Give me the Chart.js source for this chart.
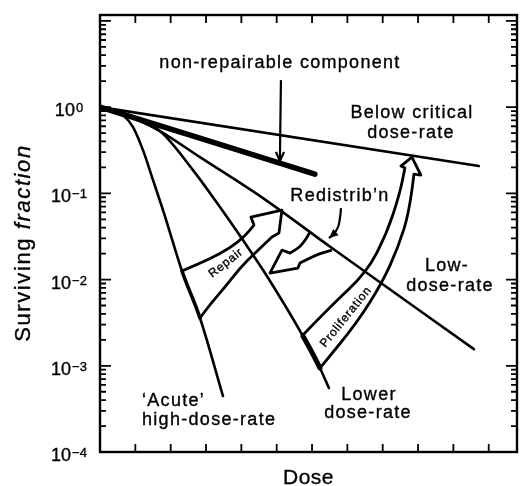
<!DOCTYPE html>
<html>
<head>
<meta charset="utf-8">
<title>Dose-rate effect</title>
<script src="https://cdn.jsdelivr.net/npm/chart.js@4.4.1/dist/chart.umd.min.js"></script>
<style>
  html, body { margin: 0; padding: 0; background: #fff; }
  canvas { display: block; }
</style>
</head>
<body>
<canvas id="chart" width="526" height="486"></canvas>
<script>
// survival curves, dose (no units) against surviving fraction
const belowCritDose = [0, 10.72];
const belowCritSurv = [1, 0.207];

const nonRepairDose = [0, 6.08];
const nonRepairSurv = [1, 0.167];

const lowRateDose = [0, 0.566, 1.132, 1.697, 2.829, 4.611, 6.563, 10.58];
const lowRateSurv = [1, 0.852, 0.689, 0.527, 0.263, 0.0881, 0.0232, 0.00156];

const lowerRateDose = [0, 0.566, 1.132, 1.697, 2.631, 3.253, 4.102, 4.668, 5.743, 6.223, 6.478];
const lowerRateSurv = [1, 0.852, 0.689, 0.527, 0.186, 0.0836, 0.0265, 0.0119, 0.00221, 0.000942, 0.000552];

const acuteDose = [0, 0.339, 0.651, 0.934, 1.216, 1.499, 1.81, 2.32, 2.829, 3.48];
const acuteSurv = [1, 0.948, 0.807, 0.586, 0.317, 0.143, 0.059, 0.01256, 0.00358, 0.000446];

const yDecades = [0, -1, -2, -3, -4];
const xTicks = [1, 2, 3, 4, 5, 6, 7, 8, 9, 10, 11];

// arrow outlines, [dose, log10 surviving fraction]
const repairSideA = [[2.32, -1.901], [3.055, -1.774], [3.678, -1.635], [4.102, -1.496], [4.356, -1.368]];
const repairHead = [[4.27, -1.275], [5.149, -1.194], [5.064, -1.461]];
const repairSideB = [[4.866, -1.507], [4.385, -1.693], [3.96, -1.867], [3.536, -2.087], [3.168, -2.261], [2.829, -2.446]];

const redistSideA = [[5.941, -1.449], [5.743, -1.6], [5.375, -1.693]];
const redistHead = [[5.149, -1.658], [4.809, -1.925], [5.601, -1.867]];
const redistSideB = [[5.658, -1.809], [6.082, -1.716], [6.563, -1.658]];

const prolifSideA = [[5.743, -2.643], [6.506, -2.319], [7.553, -1.913], [8.119, -1.461], [8.487, -0.997], [8.628, -0.707]];
const prolifHead = [[8.515, -0.684], [8.826, -0.58], [9.081, -0.788]];
const prolifSideB = [[8.883, -0.777], [8.769, -1.194], [8.43, -1.635], [7.977, -2.041], [7.27, -2.504], [6.223, -3.026]];

const nonRepairPointer = [[5.12, 0.313], [5.09, -0.626]];
const redistPointer = [[6.82, -1.171], [6.79, -1.333], [6.68, -1.449], [6.48, -1.519]];

const FONT = '"Liberation Sans", Arial, Helvetica, sans-serif';
const INK = '#000';
const LINE = 2.6;

const toPoints = (xs, ys) => xs.map((v, i) => ({ x: v, y: ys[i] }));

function curve(data, width, thickIndex, thickWidth) {
  return {
    data,
    borderColor: INK,
    borderWidth: width,
    borderCapStyle: 'round',
    borderJoinStyle: 'round',
    pointRadius: 0,
    cubicInterpolationMode: 'monotone',
    segment: thickIndex === undefined ? {} : {
      borderWidth: c => (c.p0DataIndex === thickIndex ? thickWidth : width)
    }
  };
}

function smooth(ctx, pts, first) {
  if (first) ctx.moveTo(pts[0].x, pts[0].y); else ctx.lineTo(pts[0].x, pts[0].y);
  for (let i = 1; i < pts.length - 1; i++) {
    const mx = (pts[i].x + pts[i + 1].x) / 2;
    const my = (pts[i].y + pts[i + 1].y) / 2;
    ctx.quadraticCurveTo(pts[i].x, pts[i].y, mx, my);
  }
  const last = pts[pts.length - 1];
  ctx.lineTo(last.x, last.y);
}

function text(ctx, str, px, py, size, align, opts = {}) {
  ctx.save();
  ctx.translate(px, py);
  if (opts.angle) ctx.rotate(opts.angle);
  ctx.font = (opts.italic ? 'italic ' : '') + size + 'px ' + FONT;
  ctx.letterSpacing = (opts.spacing === undefined ? 1.3 : opts.spacing) + 'px';
  ctx.textAlign = align;
  ctx.textBaseline = opts.baseline || 'alphabetic';
  ctx.fillStyle = INK;
  ctx.strokeStyle = INK;
  ctx.lineWidth = 0.35;
  ctx.fillText(str, 0, 0);
  ctx.strokeText(str, 0, 0);
  ctx.restore();
}

function arrowHead(ctx, from, tip, filled) {
  const ang = Math.atan2(tip.y - from.y, tip.x - from.x);
  const len = 10, spread = 0.42;
  const l = { x: tip.x - len * Math.cos(ang - spread), y: tip.y - len * Math.sin(ang - spread) };
  const r = { x: tip.x - len * Math.cos(ang + spread), y: tip.y - len * Math.sin(ang + spread) };
  ctx.beginPath();
  ctx.moveTo(l.x, l.y);
  ctx.lineTo(tip.x, tip.y);
  ctx.lineTo(r.x, r.y);
  if (filled) {
    ctx.closePath();
    ctx.fill();
  } else {
    ctx.stroke();
  }
}

const diagram = {
  id: 'diagram',
  afterDatasetsDraw(chart) {
    const { ctx, chartArea: a, scales: { x, y } } = chart;
    const P = ([d, l]) => ({ x: x.getPixelForValue(d), y: y.getPixelForValue(Math.pow(10, l)) });
    ctx.save();
    ctx.strokeStyle = INK;
    ctx.fillStyle = INK;
    ctx.lineCap = 'butt';

    // frame
    ctx.lineWidth = 2.4;
    ctx.strokeRect(a.left, a.top, a.right - a.left, a.bottom - a.top);

    // inward ticks on all four sides
    ctx.lineWidth = 1.8;
    ctx.beginPath();
    for (let e = Math.floor(Math.log10(y.min)); e <= Math.ceil(Math.log10(y.max)); e++) {
      for (let m = 1; m <= 9; m++) {
        const v = m * Math.pow(10, e);
        if (v < y.min || v > y.max) continue;
        const py = y.getPixelForValue(v);
        const len = m === 1 ? 11 : 6;
        ctx.moveTo(a.left, py); ctx.lineTo(a.left + len, py);
        ctx.moveTo(a.right, py); ctx.lineTo(a.right - len, py);
      }
    }
    xTicks.forEach(t => {
      const px = x.getPixelForValue(t);
      ctx.moveTo(px, a.top); ctx.lineTo(px, a.top + 8);
      ctx.moveTo(px, a.bottom); ctx.lineTo(px, a.bottom - 8);
    });
    ctx.stroke();

    // decade labels
    yDecades.forEach(e => {
      const py = y.getPixelForValue(Math.pow(10, e));
      const sup = e === 0 ? '0' : '\u2212' + Math.abs(e);
      ctx.letterSpacing = '0px';
      ctx.font = '18px ' + FONT;
      const wb = ctx.measureText('10').width;
      ctx.font = '13px ' + FONT;
      const ws = ctx.measureText(sup).width;
      const left = 69 - (wb + ws + 1) / 2;
      ctx.textAlign = 'left';
      ctx.textBaseline = 'alphabetic';
      ctx.lineWidth = 0.35;
      ctx.font = '18px ' + FONT;
      ctx.fillText('10', left, py + 9);
      ctx.strokeText('10', left, py + 9);
      ctx.font = '13px ' + FONT;
      ctx.fillText(sup, left + wb + 1, py + 5);
      ctx.strokeText(sup, left + wb + 1, py + 5);
    });

    // hollow arrows
    ctx.lineWidth = 2.8;
    ctx.lineJoin = 'round';
    [[repairSideA, repairHead, repairSideB],
     [redistSideA, redistHead, redistSideB],
     [prolifSideA, prolifHead, prolifSideB]].forEach(([sa, head, sb]) => {
      ctx.beginPath();
      smooth(ctx, sa.map(P), true);
      head.map(P).forEach(p => ctx.lineTo(p.x, p.y));
      smooth(ctx, sb.map(P), false);
      ctx.stroke();
    });

    // thin pointers
    ctx.lineWidth = 2.2;
    const np = nonRepairPointer.map(P);
    ctx.beginPath();
    ctx.moveTo(np[0].x, np[0].y);
    ctx.lineTo(np[1].x, np[1].y);
    ctx.stroke();
    arrowHead(ctx, np[0], np[1], false);

    const rp = redistPointer.map(P);
    ctx.beginPath();
    smooth(ctx, rp, true);
    ctx.stroke();
    arrowHead(ctx, rp[rp.length - 2], rp[rp.length - 1], true);

    // labels
    text(ctx, 'non-repairable component', 280, 68, 18, 'center');
    text(ctx, 'Below critical', 412, 118, 18, 'center');
    text(ctx, 'dose-rate', 411, 138, 18, 'center');
    text(ctx, 'Redistrib\u2019n', 340, 201, 18, 'center');
    text(ctx, 'Low-', 447, 271, 18, 'center');
    text(ctx, 'dose-rate', 450, 291, 18, 'center');
    text(ctx, 'Lower', 369, 400, 18, 'center');
    text(ctx, 'dose-rate', 368, 418, 18, 'center');
    text(ctx, '\u2018Acute\u2019', 142, 406, 18, 'left');
    text(ctx, 'high-dose-rate', 142, 425, 18, 'left');
    text(ctx, 'Repair', 226, 263, 12, 'center', { angle: -38 * Math.PI / 180, baseline: 'middle', spacing: 0.8 });
    text(ctx, 'Proliferation', 346, 317, 12, 'center', { angle: -51 * Math.PI / 180, baseline: 'middle', spacing: 0.8 });

    // axis titles
    text(ctx, 'Dose', (a.left + a.right) / 2, 484, 21, 'center', { spacing: 0.5 });
    ctx.save();
    ctx.translate(29.5, 243);
    ctx.rotate(-Math.PI / 2);
    ctx.letterSpacing = '1.6px';
    ctx.font = '22px ' + FONT;
    const w1 = ctx.measureText('Surviving ').width;
    ctx.font = 'italic 22px ' + FONT;
    const w2 = ctx.measureText('fraction').width;
    ctx.textAlign = 'left';
    ctx.textBaseline = 'alphabetic';
    ctx.fillStyle = INK;
    ctx.lineWidth = 0.35;
    ctx.font = '22px ' + FONT;
    ctx.fillText('Surviving ', -(w1 + w2) / 2, 0);
    ctx.strokeText('Surviving ', -(w1 + w2) / 2, 0);
    ctx.font = 'italic 22px ' + FONT;
    ctx.fillText('fraction', -(w1 + w2) / 2 + w1, 0);
    ctx.strokeText('fraction', -(w1 + w2) / 2 + w1, 0);
    ctx.restore();

    ctx.restore();
  }
};

new Chart(document.getElementById('chart'), {
  type: 'line',
  data: {
    datasets: [
      curve(toPoints(belowCritDose, belowCritSurv), LINE),
      curve(toPoints(nonRepairDose, nonRepairSurv), 5.5),
      curve(toPoints(lowRateDose, lowRateSurv), LINE),
      curve(toPoints(lowerRateDose, lowerRateSurv), LINE, 8, 5),
      curve(toPoints(acuteDose, acuteSurv), LINE, 7, 3.6)
    ]
  },
  options: {
    responsive: false,
    animation: false,
    layout: { padding: { left: 100, right: 9, top: 15, bottom: 34 } },
    scales: {
      x: { type: 'linear', min: 0, max: 11.8, display: false },
      y: { type: 'logarithmic', min: 1e-4, max: 11.7, display: false }
    },
    plugins: {
      legend: { display: false },
      tooltip: { enabled: false }
    }
  },
  plugins: [diagram]
});
</script>
</body>
</html>
